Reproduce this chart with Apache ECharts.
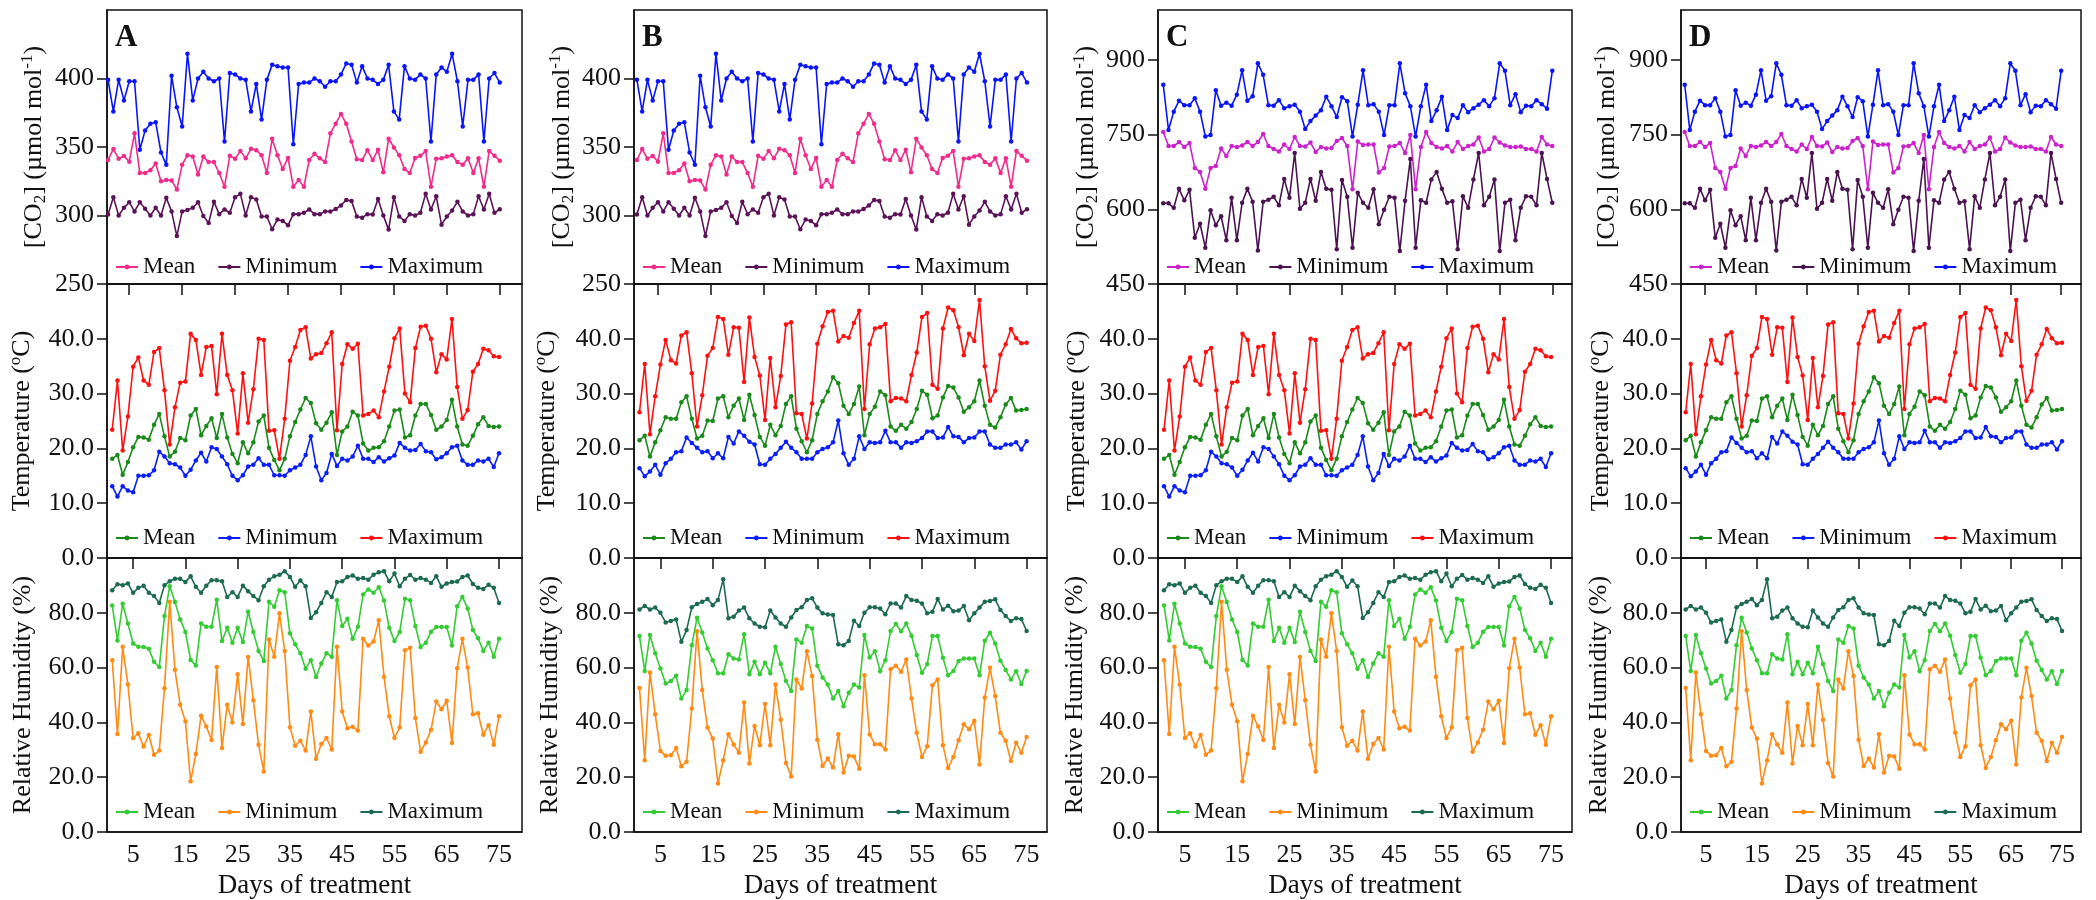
<!DOCTYPE html>
<html>
<head>
<meta charset="utf-8">
<script src="https://cdn.jsdelivr.net/npm/echarts@6/dist/echarts.min.js"></script>
<style>
  html, body { margin: 0; padding: 0; background: #ffffff; }
  #chart { width: 2096px; height: 900px; }
</style>
</head>
<body>
<div id="chart"></div>
<script>
// Days of treatment
const days = [1,2,3,4,5,6,7,8,9,10,11,12,13,14,15,16,17,18,19,20,21,22,23,24,25,
  26,27,28,29,30,31,32,33,34,35,36,37,38,39,40,41,42,43,44,45,46,47,48,49,50,
  51,52,53,54,55,56,57,58,59,60,61,62,63,64,65,66,67,68,69,70,71,72,73,74,75];
const dayTicks = [5, 15, 25, 35, 45, 55, 65, 75];
const seriesNames = ['Mean', 'Minimum', 'Maximum'];

// [CO2] at ambient CO2 (panels A, B), µmol mol-1
const co2AmbMean = [340.5,348.5,341.5,343.4,339.3,360,331,331,333,338,
  325,326,325.5,319,337,344,343,330,343,339,
  339,331,321,343.6,341.5,347,341.7,348.7,347.7,344,
  331,356,344,334,342,321,326,321,340.5,345,
  341.7,339,360,367,374,367,354,341,340.5,347.7,
  340.5,348,331.5,356,349.7,344,334,331,342,343.6,
  347,321,341.5,341.7,343,344,339,337,341.7,331,
  341.7,321,347,343.6,340];
const co2AmbMin = [300.8,313.4,300,305.6,309.7,303,309.7,305,300,305.6,
  300,313,303,285,303,304,305.6,309.7,299.6,294.5,
  310,301,304.4,302,313.4,315.8,300,313.4,311.7,299.3,
  299.3,290,297,296,292.8,301,301,302,304.4,301,
  301,303,303,304.7,307.3,311.4,310.5,299.3,298.4,301,
  300.8,312,300,289.7,313.4,299.3,296,301,300,302,
  315.8,304.4,314,293.3,299.3,303.7,310,303,300,301,
  314,304.4,315.8,302,304.5];
const co2AmbMax = [399,376,399,384,398,398,348,362,367,368,
  346,337,402,379,365,418,384,400,405,400,
  398,400,354,404,403,400,399,376,396,370,
  399,410,409,408,408,352,396,397,397,400,
  398,394,398,398,403,411,410,397,409,400,
  399,396,399,410,376,370,409,400,399,403,
  400,354,403,408,405,418,398,365,399,399,
  403,354,400,404,397];

// [CO2] at elevated CO2 (panels C, D), µmol mol-1
const co2EleMean = [755,727,727,735,725,733,683,675,641,683,
  687,722,707,727,725,728,735,727,735,751,
  727,721,716,730,721,745,727,726,734,715,
  725,722,723,737,743,727,640,736,729,730,
  730,674,683,726,727,733,713,749,640,725,
  755,733,725,722,727,716,735,721,727,730,
  744,716,721,744,734,728,725,725,726,721,
  721,716,745,730,727];
const co2EleMin = [612,612,603,641,618,639,543,571,523,598,
  568,586,538,623,538,613,641,615,517,615,
  619,625,608,661,623,713,601,613,661,617,
  675,641,639,520,659,625,523,633,613,603,
  640,570,599,625,623,516,617,701,523,618,
  613,660,675,641,613,616,520,626,603,660,
  713,608,625,660,516,613,619,538,603,626,
  625,608,713,661,613];
const co2EleMax = [850,759,796,818,809,809,823,796,746,749,
  839,808,814,808,830,879,818,827,893,870,
  809,808,819,803,807,810,796,761,777,788,
  799,826,807,785,825,817,746,810,879,809,
  811,796,749,809,809,893,833,807,746,807,
  850,777,799,826,759,789,783,809,795,803,
  810,819,807,823,893,878,809,831,795,808,
  807,819,811,802,878];

// Air temperature at ambient temperature (panels A, C), °C
const tempAmbMean = [18.1,18.8,15.2,17.5,20.2,22.1,22.0,21.6,24.3,26.3,
  22.2,18.5,19.4,21.9,21.5,26.0,27.2,22.4,24.1,25.5,
  21.9,26.3,22.0,19.0,17.3,21.1,19.1,21.1,24.9,26.0,
  20.1,17.9,16.0,18.1,22.2,24.8,27.1,29.2,28.3,24.6,
  23.4,24.7,26.6,18.8,23.1,24.0,26.7,26.0,20.9,19.6,
  20.1,20.2,21.3,24.0,26.9,27.1,22.0,22.4,26.0,28.1,
  28.1,26.1,23.4,24.0,25.2,28.9,24.0,20.7,20.5,22.3,
  24.4,25.7,24.1,23.9,24.0];
const tempAmbMin = [13.1,11.2,13.1,12.3,12.0,15.0,15.0,15.1,16.0,19.4,
  18.5,17.3,17.1,16.5,15.0,16.1,17.8,19.2,17.6,20.2,
  19.9,18.5,17.1,15.0,14.2,15.1,16.7,17.0,18.2,17.0,
  17.0,15.1,15.1,15.0,16.0,16.5,17.0,18.8,22.2,16.7,
  14.2,15.5,19.0,16.8,18.1,17.8,18.5,20.5,18.1,18.1,
  17.5,18.4,17.6,18.2,18.7,21.0,20.1,19.6,19.7,20.8,
  19.5,19.3,18.0,18.4,19.1,20.2,20.5,17.8,17.0,17.0,
  17.8,17.6,18.1,16.6,19.1];
const tempAmbMax = [23.4,32.4,19.6,25.8,34.9,36.6,32.4,31.6,37.6,38.3,
  30.6,20.7,27.5,32.0,32.2,40.9,39.8,33.4,38.5,38.7,
  29.9,40.9,33.4,30.6,22.7,33.7,24.7,30.8,40.0,39.8,
  23.2,23.3,18.1,25.4,36.0,38.5,41.6,42.1,36.4,37.2,
  37.4,39.2,41.2,23.3,35.4,39.0,38.2,39.1,26.0,26.3,
  26.9,25.7,30.4,34.9,40.1,41.9,30.0,28.4,38.3,42.2,
  42.4,40.0,33.9,37.2,36.2,43.6,31.2,25.4,27.0,34.0,
  35.4,38.2,37.9,36.8,36.7];

// Air temperature at elevated temperature (panels B, D), °C
const tempWarmMean = [21.5,22.3,18.5,21.1,23.3,25.7,25.4,25.4,28.4,29.5,
  25.4,21.8,22.3,25.1,25.0,29.1,29.5,25.7,27.8,29.1,
  25.2,29.8,26.1,22.1,20.5,24.3,22.4,24.1,28.1,29.5,
  23.6,21.3,19.3,21.5,26.3,28.6,30.4,33.0,31.9,27.8,
  26.3,28.1,31.3,22.4,26.3,27.6,30.4,29.7,24.0,23.2,
  24.3,23.6,24.8,27.2,30.5,29.8,25.5,26.0,29.3,31.4,
  31.1,29.3,26.7,27.5,28.6,32.4,27.8,24.3,23.8,25.7,
  28.0,29.2,26.9,27.0,27.2];
const tempWarmMin = [16.4,14.9,15.8,17.0,15.2,17.3,18.1,19.3,19.5,22.0,
  21.0,20.1,19.3,19.5,18.2,19.1,18.2,22.1,20.9,23.1,
  22.3,21.2,20.7,17.1,17.0,18.1,19.0,20.1,21.2,20.1,
  19.3,18.1,18.1,18.1,19.3,19.9,20.2,21.1,25.1,19.1,
  17.0,18.1,22.2,19.9,21.1,21.0,21.1,23.2,21.1,21.1,
  20.1,21.1,21.0,21.3,21.9,23.1,23.1,21.9,22.0,23.9,
  22.2,22.1,21.1,21.9,22.0,23.1,23.1,20.7,20.1,20.1,
  20.7,20.7,21.1,19.8,21.3];
const tempWarmMax = [26.6,35.4,22.6,29.5,35.3,39.8,36.1,35.5,40.6,41.2,
  33.7,24.0,29.7,36.9,38.3,44.0,43.6,37.1,42.1,42.0,
  32.1,43.9,36.7,33.3,25.2,36.5,27.5,33.2,42.6,43.0,
  26.4,26.3,21.8,28.2,39.1,42.3,44.9,45.1,39.5,40.5,
  40.2,42.9,45.1,27.2,39.0,41.9,42.1,42.7,28.6,29.2,
  29.1,28.6,33.4,37.5,44.0,44.7,31.6,30.9,41.9,45.7,
  45.2,42.1,37.0,40.9,39.6,47.1,35.0,28.7,30.5,37.1,
  39.0,41.8,40.1,39.2,39.3];

// Relative humidity at ambient temperature (panels A, C), %
const rhAmbMean = [82.7,69.9,83.3,76.1,68.8,67.6,67.5,66.9,62.1,60.2,
  78.8,89.7,83.9,77.6,73.0,62.8,60.8,76.1,74.9,74.9,
  84.8,69.7,74.5,69.1,74.5,69.3,80.4,73.0,66.1,62.4,
  84.0,82.2,88.2,87.5,72.5,68.5,65.2,59.6,62.7,56.6,
  61.5,65.2,64.0,84.6,75.2,77.8,70.5,74.9,86.7,88.5,
  87.3,89.3,84.5,74.5,69.7,73.0,85.1,84.6,75.2,67.5,
  69.1,73.1,74.8,74.8,74.8,68.1,82.4,85.8,81.6,73.7,
  70.7,66.1,69.1,64.0,70.5];
const rhAmbMin = [62.7,35.8,67.6,53.8,34.3,36.0,31.2,35.4,28.2,29.7,
  52.5,84.0,59.2,46.4,40.4,18.5,28.5,42.4,38.5,33.6,
  60.2,30.7,46.4,40.0,57.6,39.4,63.9,48.1,31.8,22.1,
  70.3,64.0,79.8,66.1,38.2,31.5,33.3,29.7,44.0,26.7,
  32.1,34.3,30.1,67.6,44.0,37.9,38.4,37.0,70.5,68.1,
  69.5,77.3,56.7,42.2,34.3,38.2,66.3,67.2,41.6,29.3,
  32.7,37.3,47.6,44.8,47.9,32.5,59.8,70.5,60.0,43.0,
  43.3,35.5,39.0,31.8,42.2];
const rhAmbMax = [88.2,90.4,90.1,90.7,87.3,89.1,89.9,87.3,86.1,83.6,
  90.1,91.5,92.4,92.4,91.2,93.3,89.5,87.3,89.9,91.9,
  91.9,91.5,85.8,87.5,85.8,89.9,87.9,86.1,84.6,89.7,
  92.1,93.3,93.9,95.2,93.1,89.5,91.8,89.7,78.1,80.2,
  83.6,87.5,85.8,91.2,91.5,93.1,93.6,92.4,92.7,92.1,
  93.9,94.8,95.2,91.5,94.3,89.7,92.4,93.8,92.1,92.7,
  92.1,90.9,93.3,89.5,90.7,91.2,91.4,93.1,93.6,90.5,
  89.1,88.7,90.2,89.1,83.6];

// Relative humidity at elevated temperature (panels B, D), %
const rhWarmMean = [71.5,58.8,71.9,65.2,59.7,54.2,55.1,57.0,48.7,51.8,
  68.2,78.2,72.8,67.0,62.7,57.9,57.9,64.9,63.3,63.0,
  72.2,57.6,62.1,57.6,61.8,57.9,67.6,61.3,55.1,51.5,
  70.3,69.1,75.2,74.3,60.7,56.4,53.8,48.7,51.5,45.9,
  50.8,53.8,52.7,71.9,63.7,66.0,58.7,62.7,73.4,75.9,
  73.3,76.1,71.6,64.6,58.1,61.3,71.5,71.5,63.6,57.2,
  58.8,62.4,63.3,63.3,63.3,57.2,69.8,72.7,68.8,62.5,
  59.1,55.7,58.7,54.0,58.8];
const rhWarmMin = [52.6,26.2,58.2,43.0,29.6,27.8,28.0,30.7,24.0,25.6,
  45.1,73.3,51.8,38.1,34.1,17.7,26.2,35.7,31.9,28.9,
  47.3,25.0,38.7,31.7,46.7,31.7,53.8,41.0,25.2,20.3,
  55.7,52.4,66.0,56.9,33.7,24.1,26.8,23.5,35.7,21.7,
  27.8,27.6,23.1,57.2,35.6,32.0,32.0,30.1,59.4,60.7,
  58.5,63.0,48.7,36.2,27.4,31.3,53.6,55.7,31.7,23.4,
  27.4,33.5,39.3,37.5,40.6,24.6,49.1,59.9,49.6,36.2,
  33.3,25.9,32.6,28.9,34.7];
const rhWarmMax = [81.2,82.5,81.2,81.9,80.0,76.5,77.0,77.6,69.4,73.7,
  82.0,83.2,84.0,85.0,82.8,84.7,92.2,78.0,78.6,80.8,
  81.9,78.0,76.1,74.9,74.7,80.8,78.3,76.1,74.9,78.3,
  81.0,82.0,84.7,85.3,81.9,79.8,79.4,79.2,68.5,68.2,
  69.7,77.1,75.2,80.0,82.0,82.0,81.6,79.5,83.4,83.4,
  81.9,86.1,84.7,84.4,83.4,79.8,80.4,85.0,81.2,82.6,
  80.6,80.8,82.5,77.3,79.8,81.9,84.0,84.3,84.9,81.0,
  78.8,77.0,78.0,77.7,73.4];

// Y-axis ticks
const co2AmbTicks = [250, 300, 350, 400];
const co2EleTicks = [450, 600, 750, 900];
const tempTicks = [0, 10, 20, 30, 40];
const rhTicks = [0, 20, 40, 60, 80];

// ---- styling / layout ----
const FONT = '"Liberation Serif", "Times New Roman", Times, serif';
const INK = '#111111';

const colors = {
  co2Amb: ['#F22A8B', '#5B1358', '#0A14FA'],
  co2Ele: ['#CC22CC', '#4A1450', '#0A14FA'],
  temp:   ['#1A8A1A', '#0A1EFA', '#FF1010'],
  rh:     ['#33CC33', '#FF8A14', '#1D6B4E']
};

const rows = [
  { top: 10,  height: 274, legendTop: 255 },
  { top: 284, height: 274, legendTop: 526 },
  { top: 558, height: 275, legendTop: 800 }
];

const panels = [
  { letter: 'A', left: 107, width: 415,
    co2: [co2AmbMean, co2AmbMin, co2AmbMax], co2Range: [250, 450], co2Ticks: co2AmbTicks, co2Colors: colors.co2Amb,
    temp: [tempAmbMean, tempAmbMin, tempAmbMax], rh: [rhAmbMean, rhAmbMin, rhAmbMax],
    co2X: [0.8, 79.2], lowX: [0, 79.4], gaps: [58, 70, 69] },
  { letter: 'B', left: 634, width: 413,
    co2: [co2AmbMean, co2AmbMin, co2AmbMax], co2Range: [250, 450], co2Ticks: co2AmbTicks, co2Colors: colors.co2Amb,
    temp: [tempWarmMean, tempWarmMin, tempWarmMax], rh: [rhWarmMean, rhWarmMin, rhWarmMax],
    co2X: [0.45, 78.8], lowX: [-0.05, 78.9], gaps: [57, 72, 69] },
  { letter: 'C', left: 1158, width: 414,
    co2: [co2EleMean, co2EleMin, co2EleMax], co2Range: [450, 1000], co2Ticks: co2EleTicks, co2Colors: colors.co2Ele,
    temp: [tempAmbMean, tempAmbMin, tempAmbMax], rh: [rhAmbMean, rhAmbMin, rhAmbMax],
    co2X: [0, 78.75], lowX: [-0.15, 79.0], gaps: [57, 66, 68] },
  { letter: 'D', left: 1681, width: 400,
    co2: [co2EleMean, co2EleMin, co2EleMax], co2Range: [450, 1000], co2Ticks: co2EleTicks, co2Colors: colors.co2Ele,
    temp: [tempWarmMean, tempWarmMin, tempWarmMax], rh: [rhWarmMean, rhWarmMin, rhWarmMax],
    co2X: [0.27, 78.9], lowX: [0.08, 78.73], gaps: [59, 65, 67] }
];

const nameRich = {
  t:   { fontFamily: FONT, fontSize: 26, color: INK, lineHeight: 30 },
  sub: { fontFamily: FONT, fontSize: 17, color: INK, lineHeight: 14, verticalAlign: 'bottom' },
  sup: { fontFamily: FONT, fontSize: 17, color: INK, lineHeight: 18, verticalAlign: 'top' }
};
const rowNames = [
  '{t|[CO}{sub|2}{t|] (µmol mol}{sup|-1}{t|)}',
  '{t|Temperature (}{sup|o}{t|C)}',
  '{t|Relative Humidity (%)}'
];

const grid = [], xAxis = [], yAxis = [], series = [], legend = [], title = [];

panels.forEach((p, pi) => {
  title.push({
    text: p.letter, left: p.left + 8, top: 22, padding: 0,
    textStyle: { fontFamily: FONT, fontSize: 31, fontWeight: 'bold', color: INK }
  });

  rows.forEach((r, ri) => {
    const gi = grid.length;
    grid.push({
      left: p.left, top: r.top, width: p.width, height: r.height,
      show: true, borderColor: INK, borderWidth: 1.5, backgroundColor: 'transparent'
    });

    const xr = ri === 0 ? p.co2X : p.lowX;
    const isBottom = ri === 2;
    xAxis.push({
      gridIndex: gi, type: 'value', min: xr[0], max: xr[1],
      axisLine: { show: true, onZero: false, lineStyle: { color: INK, width: 1.5 } },
      axisTick: { show: !isBottom, length: 11, customValues: dayTicks, lineStyle: { color: INK, width: 1.5 } },
      axisLabel: { show: isBottom, customValues: dayTicks, margin: 10,
        fontFamily: FONT, fontSize: 26, color: INK },
      splitLine: { show: false },
      name: isBottom ? 'Days of treatment' : '',
      nameLocation: 'middle', nameGap: 40,
      nameTextStyle: { fontFamily: FONT, fontSize: 27, color: INK }
    });

    let yr, ticks, fmt;
    if (ri === 0) { yr = p.co2Range; ticks = p.co2Ticks; fmt = v => String(v); }
    else if (ri === 1) { yr = [0, 50]; ticks = tempTicks; fmt = v => v.toFixed(1); }
    else { yr = [0, 100]; ticks = rhTicks; fmt = v => v.toFixed(1); }

    yAxis.push({
      gridIndex: gi, type: 'value', min: yr[0], max: yr[1],
      axisLine: { show: true, onZero: false, lineStyle: { color: INK, width: 1.5 } },
      axisTick: { show: true, length: 10, customValues: ticks, lineStyle: { color: INK, width: 1.5 } },
      axisLabel: { customValues: ticks, formatter: fmt, margin: 13,
        fontFamily: FONT, fontSize: 26, color: INK },
      splitLine: { show: false },
      name: rowNames[ri], nameLocation: 'middle', nameGap: p.gaps[ri],
      nameTextStyle: { rich: nameRich }
    });

    const sets = ri === 0 ? p.co2 : ri === 1 ? p.temp : p.rh;
    const cols = ri === 0 ? p.co2Colors : ri === 1 ? colors.temp : colors.rh;
    const names = [];
    seriesNames.forEach((sn, si) => {
      const name = p.letter + ri + '|' + sn;
      names.push(name);
      series.push({
        name, type: 'line', xAxisIndex: gi, yAxisIndex: gi,
        data: days.map((d, k) => [d, sets[si][k]]),
        symbol: 'circle', symbolSize: 4.5, showSymbol: true,
        lineStyle: { color: cols[si], width: 1.6 },
        itemStyle: { color: cols[si] },
        emphasis: { disabled: true },
        animation: false
      });
    });

    legend.push({
      data: names, left: p.left + 8, top: r.legendTop, orient: 'horizontal',
      padding: 0, itemWidth: 22, itemHeight: 6, itemGap: 22, selectedMode: false,
      formatter: n => n.split('|')[1],
      textStyle: { fontFamily: FONT, fontSize: 23, color: INK, lineHeight: 24 }
    });
  });
});

const chart = echarts.init(document.getElementById('chart'), null, { renderer: 'canvas' });
chart.setOption({
  backgroundColor: '#ffffff',
  animation: false,
  title, grid, xAxis, yAxis, series, legend
});
</script>
</body>
</html>
